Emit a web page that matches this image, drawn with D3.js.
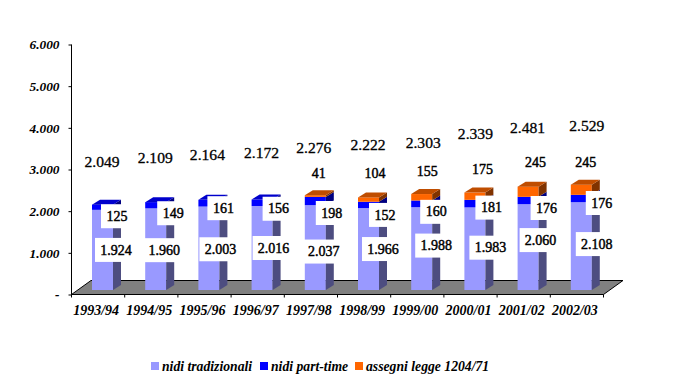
<!DOCTYPE html>
<html><head><meta charset="utf-8">
<script src="https://cdnjs.cloudflare.com/ajax/libs/d3/7.8.5/d3.min.js"></script>
<style>html,body{margin:0;padding:0;background:#fff}svg{display:block}
text{font-family:"Liberation Serif","Times New Roman",serif;fill:#000}</style></head><body>
<script>
const categories=["1993/94","1994/95","1995/96","1996/97","1997/98","1998/99","1999/00","2000/01","2001/02","2002/03"];
const tradizionali=[1924,1960,2003,2016,2037,1966,1988,1983,2060,2108];
const partTime=[125,149,161,156,198,152,160,181,176,176];
const assegni=[0,0,0,0,41,104,155,175,245,245];
const totals=[2049,2109,2164,2172,2276,2222,2303,2339,2481,2529];
const yTicks=[0,1000,2000,3000,4000,5000,6000];
const seriesNames=["nidi tradizionali","nidi part-time","assegni legge 1204/71"];

// label placement, px offsets from each bar (separate from the data)
const mainDx=[24,19,22,22,19,25,25,26,23,26], mainDy=[0,1,1,0,4,0,-3,-1,-7,-2];
const partDx=[25,28,25,27,27,27,25,27,29,31], partDy=[9,8,5,6,12,10,8,4,7.5,4.5];
const topDx=[0,0,0,0,14,17,16,18,18,15], topDy=[0,0,0,0,-22,-24,-23,-23.5,-24.6,-22.6];
const totDx=[10,10,9,10,9,10,12,11,10,16], totDy=[-42.6,-44,-45,-46.5,-47,-53,-51,-58.5,-58.6,-58.6];

const fmt=v=>v===0?"-":d3.format(",")(v).replace(/,/g,".");
const W=687,H=384;
const svg=d3.select("body").append("svg").attr("width",W).attr("height",H);
const x=d3.scaleBand().domain(categories).range([71.5,603.5]).padding(0);
const y=d3.scaleLinear().domain([0,6000]).range([294.5,44.5]);
const base=y(0)-4.5, zero=y(0);
const vy=v=>base-(zero-y(v));
const barInset=20.5, bw=21, dX=8, dY=5;
const floorDx=19.5, floorDy=14;

// floor
const xl=x.range()[0], xr=x.range()[1];
svg.append("polygon").attr("points",[[xl,zero],[xl+floorDx,zero-floorDy],[xr+floorDx,zero-floorDy],[xr,zero]].join(" "))
  .attr("fill","#808080").attr("stroke","#000").attr("stroke-width",1);

const colors=[{f:"#9999FF",t:"#7A7ACC",s:"#4D4D80"},{f:"#0000FF",t:"#0000CC",s:"#000080"},{f:"#FF6600",t:"#BF4D00",s:"#803300"}];
const g=svg.append("g");
categories.forEach((c,i)=>{
  const left=x(c)+barInset; let cum=0;
  [tradizionali[i],partTime[i],assegni[i]].forEach((v,k)=>{
    if(!v)return;
    const y0=vy(cum), y1=vy(cum+v); cum+=v;
    const col=colors[k];
    g.append("rect").attr("x",left).attr("y",y1).attr("width",bw).attr("height",y0-y1).attr("fill",col.f);
    g.append("polygon").attr("points",[[left+bw,y0],[left+bw+dX,y0-dY],[left+bw+dX,y1-dY],[left+bw,y1]].join(" ")).attr("fill",col.s);
    const showTop=(k===2)||(k===1&&!assegni[i]);
    if(showTop) g.append("polygon").attr("points",[[left,y1],[left+dX,y1-dY],[left+bw+dX,y1-dY],[left+bw,y1]].join(" ")).attr("fill",col.t);
  });
});

// axes
const yAxis=d3.axisLeft(y).tickValues(yTicks).tickSize(3).tickPadding(9).tickFormat(fmt);
const yG=svg.append("g").attr("transform","translate(71.5,0)").call(yAxis);
yG.select(".domain").attr("stroke","#000").attr("d",`M0,${y(6000)}V${y(0)}`);
yG.selectAll("text").attr("font-size",13.3).attr("font-weight","bold").attr("font-style","italic").style("font-family",'"Liberation Serif"');
const xAxis=d3.axisBottom(x).tickSize(0).tickPadding(0);
const xG=svg.append("g").attr("transform",`translate(0,${zero})`).call(xAxis);
xG.select(".domain").attr("d",`M${xl},0H${xr}`).attr("stroke","#000");
xG.selectAll(".tick text").attr("dy",0).attr("y",0).attr("transform","translate(-2,20.5)").attr("font-size",14).attr("font-weight","bold").attr("font-style","italic").style("font-family",'"Liberation Serif"');
xG.selectAll(".tk").data(d3.range(categories.length+1)).enter().append("line").attr("class","tk")
  .attr("x1",i=>i<categories.length?x(categories[i]):xr).attr("x2",i=>i<categories.length?x(categories[i]):xr)
  .attr("y1",0).attr("y2",3).attr("stroke","#000");

// value labels
function label(cx,cy,txt,opt){
  if(opt.box) svg.append("rect").attr("x",cx-opt.box/2).attr("y",cy-12).attr("width",opt.box).attr("height",24).attr("fill","#fff");
  const t=svg.append("text").attr("x",cx).attr("y",cy).attr("dy","0.33em").attr("text-anchor","middle")
    .attr("font-size",opt.size).attr("font-weight",opt.weight).text(txt);
  if(opt.stroke) t.style("stroke","#000").style("stroke-width",opt.stroke);
}
categories.forEach((c,i)=>{
  const left=x(c)+barInset;
  label(left+partDx[i],(vy(tradizionali[i])+vy(tradizionali[i]+partTime[i]))/2+partDy[i],fmt(partTime[i]),{box:32,size:14,weight:"normal",stroke:0.45});
  label(left+mainDx[i],(vy(0)+vy(tradizionali[i]))/2+mainDy[i],fmt(tradizionali[i]),{box:42,size:14,weight:"normal",stroke:0.45});
  if(assegni[i]) label(left+topDx[i],vy(totals[i])+topDy[i],fmt(assegni[i]),{size:14,weight:"normal",stroke:0.45});
  label(left+totDx[i],vy(totals[i])+totDy[i],fmt(totals[i]),{size:15.6,weight:"normal",stroke:0.3});
});

// legend
const legendX=[151,260,355];
seriesNames.forEach((n,k)=>{
  svg.append("rect").attr("x",legendX[k]).attr("y",362).attr("width",8).attr("height",8).attr("fill",colors[k].f);
  svg.append("text").attr("x",legendX[k]+11).attr("y",366).attr("dy","0.33em").attr("font-size",13.7).attr("font-weight","bold").attr("font-style","italic").text(n);
});
</script></body></html>
